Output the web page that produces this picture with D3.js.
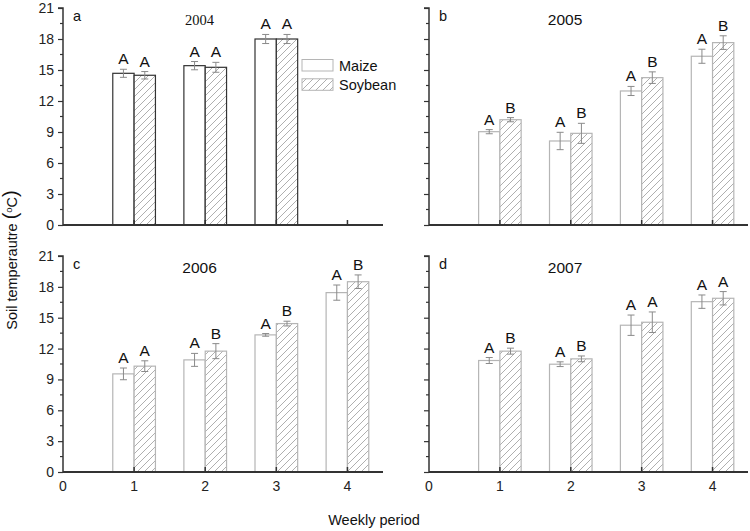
<!DOCTYPE html>
<html><head><meta charset="utf-8">
<script src="https://cdn.jsdelivr.net/npm/d3@7"></script>
<style>body{margin:0;background:#fff}svg{display:block}text{font-family:"Liberation Sans",Arial,sans-serif}</style>
</head><body>
<script>
// ---- data ----
const yearLabels = ["2004", "2005", "2006", "2007"];
const panelLetters = ["a", "b", "c", "d"];
const seriesNames = ["Maize", "Soybean"];
const yTicks = [0, 3, 6, 9, 12, 15, 18, 21];
const xTicks = [0, 1, 2, 3, 4];

const periods2004 = [1, 2, 3];
const maize2004 = [14.68, 15.42, 18.0];
const maizeErr2004 = [0.39, 0.40, 0.44];
const soy2004 = [14.49, 15.26, 18.0];
const soyErr2004 = [0.36, 0.48, 0.44];
const maizeSig2004 = ["A", "A", "A"];
const soySig2004 = ["A", "A", "A"];

const periods2005 = [1, 2, 3, 4];
const maize2005 = [9.03, 8.13, 12.97, 16.33];
const maizeErr2005 = [0.2, 0.84, 0.44, 0.68];
const soy2005 = [10.19, 8.87, 14.26, 17.65];
const soyErr2005 = [0.2, 0.97, 0.56, 0.66];
const maizeSig2005 = ["A", "A", "A", "A"];
const soySig2005 = ["B", "B", "B", "B"];

const periods2006 = [1, 2, 3, 4];
const maize2006 = [9.54, 10.9, 13.33, 17.44];
const maizeErr2006 = [0.57, 0.63, 0.13, 0.74];
const soy2006 = [10.29, 11.75, 14.43, 18.5];
const soyErr2006 = [0.52, 0.73, 0.23, 0.66];
const maizeSig2006 = ["A", "A", "A", "A"];
const soySig2006 = ["A", "B", "B", "B"];

const periods2007 = [1, 2, 3, 4];
const maize2007 = [10.84, 10.48, 14.27, 16.56];
const maizeErr2007 = [0.29, 0.23, 0.99, 0.65];
const soy2007 = [11.75, 11.0, 14.56, 16.89];
const soyErr2007 = [0.29, 0.28, 1.0, 0.65];
const maizeSig2007 = ["A", "A", "A", "A"];
const soySig2007 = ["B", "B", "A", "A"];

const panelsData = [
  {periods: periods2004, m: maize2004, me: maizeErr2004, s: soy2004, se: soyErr2004, ms: maizeSig2004, ss: soySig2004},
  {periods: periods2005, m: maize2005, me: maizeErr2005, s: soy2005, se: soyErr2005, ms: maizeSig2005, ss: soySig2005},
  {periods: periods2006, m: maize2006, me: maizeErr2006, s: soy2006, se: soyErr2006, ms: maizeSig2006, ss: soySig2006},
  {periods: periods2007, m: maize2007, me: maizeErr2007, s: soy2007, se: soyErr2007, ms: maizeSig2007, ss: soySig2007}
];

// ---- layout ----
const W = 750, H = 531;
const svg = d3.select("body").append("svg").attr("width", W).attr("height", H);
const defs = svg.append("defs");
const pat = defs.append("pattern").attr("id", "hatch").attr("patternUnits", "userSpaceOnUse")
  .attr("width", 7).attr("height", 7);
pat.append("path").attr("d", "M-1,1 L1,-1 M0,7 L7,0 M6,8 L8,6")
  .attr("stroke", "#9a9a9a").attr("stroke-width", 0.8).attr("fill", "none");

const panelBoxes = [
  {x0: 63, x1: 383, yT: 8, yB: 225},
  {x0: 429, x1: 748, yT: 8, yB: 225},
  {x0: 63, x1: 383, yT: 256, yB: 472},
  {x0: 429, x1: 748, yT: 256, yB: 472}
];

const axisColor = "#333";
const barW = 0.3;

panelsData.forEach((pd, i) => {
  const b = panelBoxes[i];
  const g = svg.append("g");
  const x = d3.scaleLinear().domain([0, 4.5]).range([b.x0, b.x1]);
  const y = d3.scaleLinear().domain([0, 21]).range([b.yB, b.yT]);
  const first = i === 0;
  const outline = first ? "#333" : "#b5b5b5";
  const errColor = "#8a8a8a";

  pd.periods.forEach((p, k) => {
    const series = [
      {v: pd.m[k], e: pd.me[k], sig: pd.ms[k], xs: p - barW, fill: "#fff"},
      {v: pd.s[k], e: pd.se[k], sig: pd.ss[k], xs: p, fill: "url(#hatch)"}
    ];
    series.forEach(sr => {
      const xl = x(sr.xs), xr = x(sr.xs + barW), xc = (xl + xr) / 2;
      g.append("rect").attr("x", xl).attr("y", y(sr.v)).attr("width", xr - xl)
        .attr("height", y(0) - y(sr.v)).attr("fill", "#fff");
      g.append("rect").attr("x", xl).attr("y", y(sr.v)).attr("width", xr - xl)
        .attr("height", y(0) - y(sr.v)).attr("fill", sr.fill)
        .attr("stroke", outline).attr("stroke-width", 1.2);
      const yt = y(sr.v + sr.e), yb = y(sr.v - sr.e);
      g.append("path").attr("d", `M${xc},${yt}V${yb}M${xc-3.5},${yt}H${xc+3.5}M${xc-3.5},${yb}H${xc+3.5}`)
        .attr("stroke", errColor).attr("stroke-width", 1).attr("fill", "none");
      g.append("text").attr("x", xc).attr("y", yt - 5).attr("text-anchor", "middle")
        .attr("font-size", 15.5).attr("fill", "#111").text(sr.sig);
    });
  });

  // y axis
  const yAx = g.append("g").attr("transform", `translate(${b.x0},0)`)
    .call(d3.axisLeft(y).tickValues(yTicks).tickSize(5).tickPadding(4)
      .tickFormat(i % 2 === 0 ? d3.format("d") : () => ""));
  yAx.select(".domain").attr("stroke", axisColor).attr("stroke-width", 1.5).attr("d", `M0,${b.yB}V${b.yT}H-5`);
  yAx.selectAll(".tick line").attr("stroke", axisColor).attr("stroke-width", 1.2);
  yAx.selectAll(".tick text").attr("font-size", 14).attr("fill", "#222")
    .style("font-family", '"Liberation Sans",Arial,sans-serif');
  const minor = d3.range(1.5, 21, 3);
  g.append("g").selectAll("line").data(minor).join("line")
    .attr("x1", b.x0 - 3).attr("x2", b.x0).attr("y1", d => y(d)).attr("y2", d => y(d))
    .attr("stroke", axisColor).attr("stroke-width", 1.2);

  // x axis
  g.append("line").attr("x1", b.x0).attr("x2", b.x1).attr("y1", b.yB).attr("y2", b.yB)
    .attr("stroke", axisColor).attr("stroke-width", 2);
  g.append("g").selectAll("line").data(xTicks.slice(1)).join("line")
    .attr("x1", d => x(d)).attr("x2", d => x(d)).attr("y1", b.yB).attr("y2", b.yB - 5)
    .attr("stroke", axisColor).attr("stroke-width", 1.5);
  if (i >= 2) {
    g.append("g").selectAll("text").data(xTicks).join("text")
      .attr("x", d => x(d)).attr("y", b.yB + 19).attr("text-anchor", "middle")
      .attr("font-size", 14).attr("fill", "#222").text(d => d);
  }

  // panel letter & year
  g.append("text").attr("x", b.x0 + 10).attr("y", b.yT + 13).attr("font-size", 14.5)
    .attr("fill", "#111").text(panelLetters[i]);
  g.append("text").attr("x", x(1.92)).attr("y", b.yT + 17).attr("text-anchor", "middle")
    .attr("font-size", first ? 14.5 : 15.5).attr("fill", "#111")
    .style("font-family", first ? '"Liberation Serif","Times New Roman",serif' : null)
    .text(yearLabels[i]);

  // legend in panel a
  if (first) {
    const lg = g.append("g");
    seriesNames.forEach((name, k) => {
      const ly = 59.5 + k * 19.3;
      lg.append("rect").attr("x", 302).attr("y", ly).attr("width", 31).attr("height", 11.5)
        .attr("fill", k === 0 ? "#fff" : "url(#hatch)").attr("stroke", "#b5b5b5").attr("stroke-width", 1);
      lg.append("text").attr("x", 339).attr("y", ly + 11).attr("font-size", 14.5)
        .attr("fill", "#111").text(name);
    });
  }
});

// axis titles
const yt = svg.append("text").attr("transform", "translate(17,260) rotate(-90)")
  .attr("text-anchor", "middle").attr("font-size", 14.5).attr("fill", "#111");
yt.append("tspan").text("Soil temperautre ");
yt.append("tspan").attr("font-size", 20).text("(");
yt.append("tspan").attr("font-size", 9.5).attr("dy", -5).text("o");
yt.append("tspan").attr("font-size", 14.5).attr("dy", 5).text("C");
yt.append("tspan").attr("font-size", 20).text(")");

svg.append("text").attr("x", 374).attr("y", 525).attr("text-anchor", "middle")
  .attr("font-size", 14.5).attr("fill", "#111").text("Weekly period");
</script>
</body></html>
